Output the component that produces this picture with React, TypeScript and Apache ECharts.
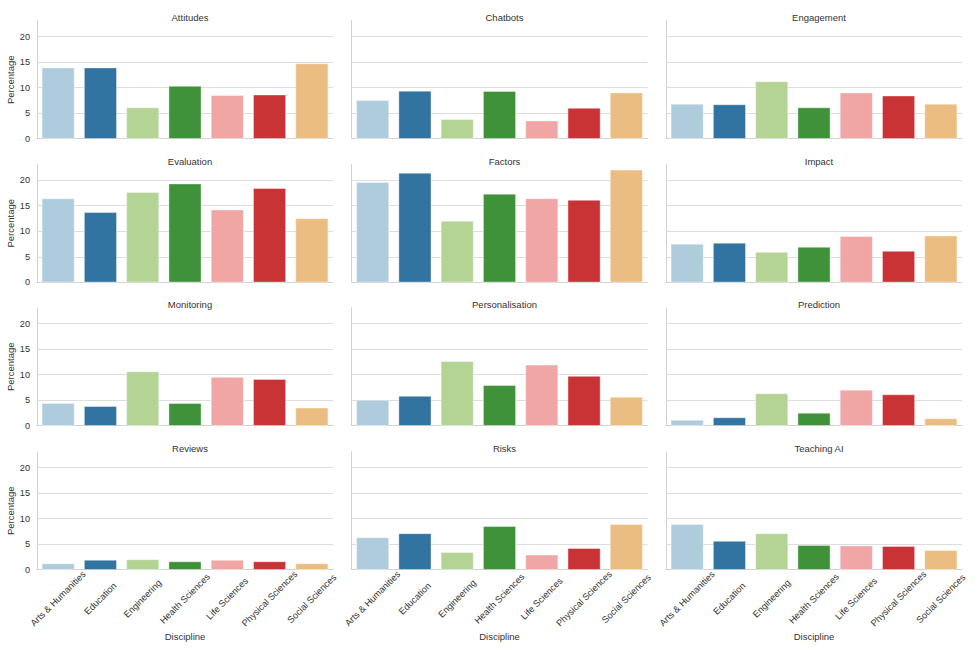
import React, { useEffect, useRef } from "react";
import * as echarts from "echarts";

const disciplines = [
  "Arts & Humanities",
  "Education",
  "Engineering",
  "Health Sciences",
  "Life Sciences",
  "Physical Sciences",
  "Social Sciences",
];

const topics = [
  "Attitudes",
  "Chatbots",
  "Engagement",
  "Evaluation",
  "Factors",
  "Impact",
  "Monitoring",
  "Personalisation",
  "Prediction",
  "Reviews",
  "Risks",
  "Teaching AI",
];

const attitudes = [13.9, 13.9, 6.1, 10.3, 8.5, 8.6, 14.7];
const chatbots = [7.5, 9.35, 3.8, 9.3, 3.5, 6.0, 9.0];
const engagement = [6.8, 6.7, 11.2, 6.1, 9.0, 8.4, 6.8];
const evaluation = [16.4, 13.7, 17.6, 19.3, 14.2, 18.4, 12.5];
const factors = [19.6, 21.4, 12.0, 17.3, 16.4, 16.1, 22.0];
const impact = [7.5, 7.7, 5.9, 6.9, 9.0, 6.1, 9.1];
const monitoring = [4.4, 3.8, 10.6, 4.4, 9.5, 9.1, 3.5];
const personalisation = [5.0, 5.8, 12.6, 7.9, 11.9, 9.7, 5.6];
const prediction = [1.1, 1.6, 6.3, 2.5, 7.0, 6.1, 1.4];
const reviews = [1.2, 1.9, 2.0, 1.6, 1.9, 1.6, 1.2];
const risks = [6.3, 7.1, 3.4, 8.5, 2.9, 4.2, 8.9];
const teachingAI = [8.9, 5.6, 7.1, 4.8, 4.7, 4.6, 3.8];

const topicValues = [
  attitudes,
  chatbots,
  engagement,
  evaluation,
  factors,
  impact,
  monitoring,
  personalisation,
  prediction,
  reviews,
  risks,
  teachingAI,
];

const yGridTicks = [5, 10, 15, 20];
const yMax = 23.1;
const yInterval = 5;

const palette = [
  "#aeccdb",
  "#3274a1",
  "#b3d495",
  "#40923a",
  "#efa6a5",
  "#ca3335",
  "#ebbd81",
];

const colLefts = [37, 351.5, 666];
const rowTops = [20.7, 164.3, 307.7, 451.7];
const gridW = 296;
const gridH = 118;

const FONT = "Liberation Sans, Arial, sans-serif";
const TEXT = "#333333";
const AXIS = "#d2d2d2";
const GRID = "#dddddd";

export default function App() {
  const ref = useRef<HTMLDivElement>(null);

  useEffect(() => {
    if (!ref.current) return;
    const chart = echarts.init(ref.current, undefined, { renderer: "svg" });

    const grids: any[] = [];
    const xAxes: any[] = [];
    const yAxes: any[] = [];
    const series: any[] = [];
    const titles: any[] = [];

    topics.forEach((t, i) => {
      const r = Math.floor(i / 3);
      const c = i % 3;
      const left = colLefts[c];
      const top = rowTops[r];
      grids.push({ left, top, width: gridW, height: gridH, containLabel: false });
      titles.push({
        text: t,
        left: left + gridW / 2,
        top: top - 13,
        textAlign: "center",
        textStyle: { fontSize: 9.5, fontWeight: "normal", color: TEXT, fontFamily: FONT },
      });
      const isBottom = r === 3;
      xAxes.push({
        type: "category",
        gridIndex: i,
        data: disciplines,
        axisTick: { show: false },
        axisLine: { show: true, lineStyle: { color: AXIS, width: 1 } },
        axisLabel: {
          show: isBottom,
          rotate: 45,
          align: "center",
          verticalAlign: "middle",
          margin: 29,
          fontSize: 9.2,
          color: TEXT,
          fontFamily: FONT,
          interval: 0,
        },
        name: isBottom ? "Discipline" : "",
        nameLocation: "middle",
        nameGap: 62,
        nameTextStyle: { fontSize: 9.5, color: TEXT, fontFamily: FONT },
        splitLine: { show: false },
      });
      const isLeft = c === 0;
      yAxes.push({
        type: "value",
        gridIndex: i,
        min: 0,
        max: yMax,
        interval: yInterval,
        axisLine: { show: true, lineStyle: { color: AXIS, width: 1 } },
        axisTick: { show: false },
        splitLine: { show: false },
        axisLabel: {
          show: isLeft,
          showMaxLabel: false,
          margin: 7,
          fontSize: 9.2,
          color: TEXT,
          fontFamily: FONT,
        },
        name: isLeft ? "Percentage" : "",
        nameLocation: "middle",
        nameGap: 19,
        nameTextStyle: { fontSize: 9.5, color: TEXT, fontFamily: FONT },
      });
      series.push({
        type: "bar",
        name: t,
        xAxisIndex: i,
        yAxisIndex: i,
        data: topicValues[i],
        barCategoryGap: "23%",
        itemStyle: {
          color: (p: any) => palette[p.dataIndex % palette.length],
          borderColor: "#ffffff",
          borderWidth: 0.4,
        },
        z: 2,
        markLine: {
          silent: true,
          symbol: "none",
          z: 1,
          label: { show: false },
          lineStyle: { color: GRID, width: 1, type: "solid" },
          emphasis: { disabled: true },
          data: yGridTicks.map((v) => ({ yAxis: v })),
        },
      });
    });

    chart.setOption({
      animation: false,
      backgroundColor: "#ffffff",
      title: titles,
      grid: grids,
      xAxis: xAxes,
      yAxis: yAxes,
      series,
    });

    return () => chart.dispose();
  }, []);

  return (
    <div
      ref={ref}
      style={{ position: "fixed", left: 0, top: 0, width: 975, height: 650, background: "#fff" }}
    />
  );
}
